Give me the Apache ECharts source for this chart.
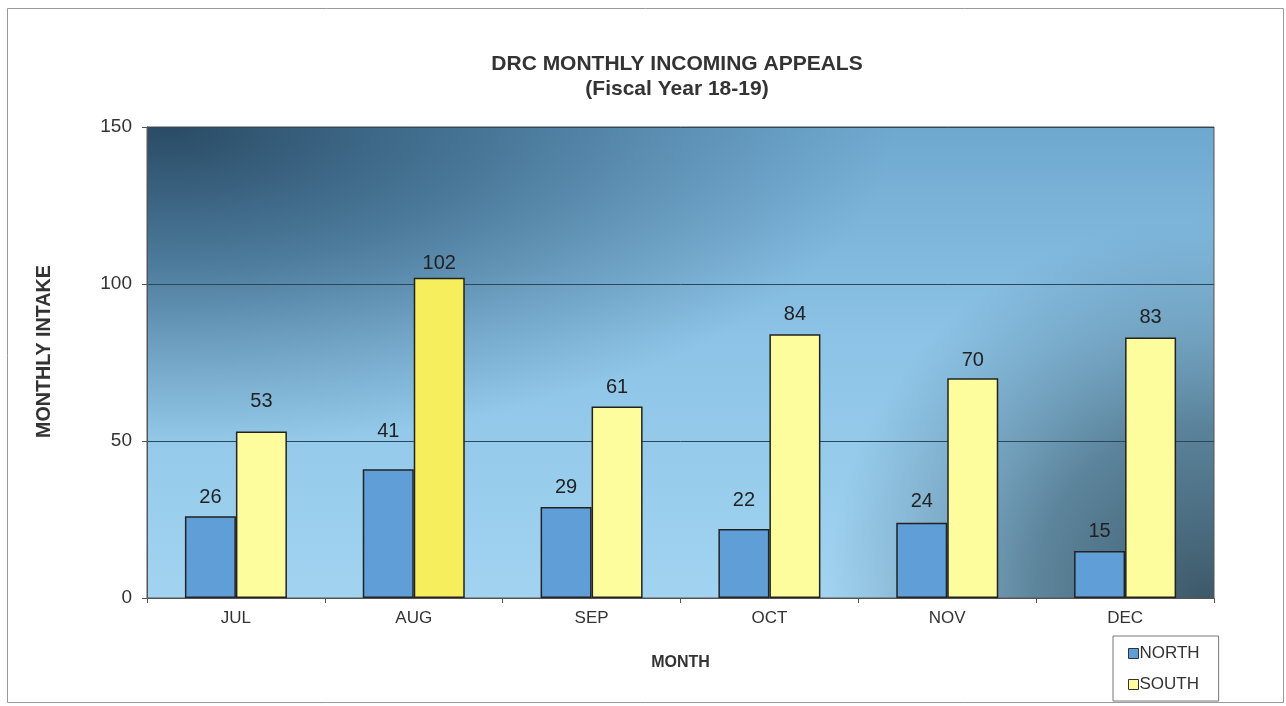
<!DOCTYPE html>
<html><head><meta charset="utf-8">
<script src="https://cdn.jsdelivr.net/npm/echarts@6/dist/echarts.min.js"></script>
<style>html,body{margin:0;padding:0;background:#fff}#c{width:1286px;height:706px}</style>
</head><body><div id="c"></div>
<script>
var categories = ['JUL','AUG','SEP','OCT','NOV','DEC'];
var northValues = [26, 41, 29, 22, 24, 15];
var southValues = [53, 102, 61, 84, 70, 83];
var yTicks = [0, 50, 100, 150];

var chart = echarts.init(document.getElementById('c'));
var font = 'Liberation Sans, Arial, sans-serif';

// plot area geometry (layout only)
var G = {left: 147, top: 127, right: 72, bottom: 108};
var gx = G.left, gy = G.top, gw = 1286 - G.left - G.right, gh = 706 - G.top - G.bottom;

// per-bar label offsets (styling, as hand-placed in the original)
var northLabelDist = [9, 28, 9, 18, 11, 9];
var southLabelDist = [20, 4, 9, 10, 8, 10];

var labelBase = {show: true, position: 'top', fontFamily: font, fontSize: 20, color: '#222'};
var northData = northValues.map(function(v, i){
  return {value: v, label: {distance: northLabelDist[i]}};
});
var southData = southValues.map(function(v, i){
  var d = {value: v, label: {distance: southLabelDist[i]}};
  if (i === 1) d.itemStyle = {color: '#f6ee5c'};
  return d;
});

var sx = gw / gh;
chart.setOption({
  animation: false,
  backgroundColor: '#ffffff',
  title: {
    text: 'DRC MONTHLY INCOMING APPEALS\n(Fiscal Year 18-19)',
    left: 672, textAlign: 'center', top: 47,
    textStyle: {fontFamily: font, fontSize: 21, fontWeight: 'bold', color: '#333', lineHeight: 25}
  },
  graphic: [
    {type: 'rect', z: -10, shape: {x: 7.5, y: 8.5, width: 1276, height: 694},
     style: {fill: '#fff', stroke: '#999', lineWidth: 1}},
    {type: 'rect', z: -9, silent: true, shape: {x: gx, y: gy, width: gw, height: gh},
     style: {fill: new echarts.graphic.LinearGradient(0, 0, 0, 1, [
       {offset: 0, color: '#6fa8cf'}, {offset: 0.45, color: '#8cc3e6'}, {offset: 1, color: '#a2d4f1'}
     ])}},
    {type: 'rect', z: -8, silent: true, x: gx, y: gy, scaleX: sx, scaleY: 1,
     shape: {x: 0, y: 0, width: gh, height: gh},
     style: {fill: new echarts.graphic.RadialGradient(0.02, 0.0, 0.68, [
       {offset: 0, color: 'rgba(38,70,95,0.95)'},
       {offset: 0.45, color: 'rgba(45,85,115,0.6)'},
       {offset: 1, color: 'rgba(60,100,130,0)'}
     ])}},
    {type: 'rect', z: -8, silent: true, x: gx, y: gy,
     shape: {x: 0, y: 0, width: gw, height: gh},
     style: {fill: new echarts.graphic.RadialGradient(0.99, 1.0, 0.8, [
       {offset: 0, color: 'rgba(55,82,98,0.95)'},
       {offset: 0.45, color: 'rgba(65,100,120,0.7)'},
       {offset: 1, color: 'rgba(80,120,145,0)'}
     ])}}
  ],
  legend: {
    orient: 'vertical', left: 1113, top: 636,
    itemWidth: 10, itemHeight: 10, itemGap: 14,
    padding: [9, 19, 8, 15],
    borderColor: '#777', borderWidth: 1, backgroundColor: '#fff',
    icon: 'rect',
    textStyle: {fontFamily: font, fontSize: 17, color: '#333', padding: [0,0,0,-4]},
    data: [{name: 'NORTH', itemStyle: {borderColor: '#333', borderWidth: 1}},
           {name: 'SOUTH', itemStyle: {borderColor: '#333', borderWidth: 1}}]
  },
  grid: {
    left: G.left, right: G.right, top: G.top, bottom: G.bottom, show: true,
    borderWidth: 1, borderColor: '#555', backgroundColor: 'transparent'
  },
  xAxis: {
    type: 'category', data: categories,
    name: 'MONTH', nameLocation: 'middle', nameGap: 57,
    nameTextStyle: {fontFamily: font, fontSize: 16, fontWeight: 'bold', color: '#333'},
    axisLine: {lineStyle: {color: '#555', width: 1}},
    axisTick: {show: true, lineStyle: {color: '#555'}, length: 5},
    axisLabel: {fontFamily: font, fontSize: 17, color: '#333', margin: 12}
  },
  yAxis: {
    type: 'value', min: 0, max: 150, interval: 50,
    name: 'MONTHLY INTAKE', nameLocation: 'middle', nameGap: 92, nameRotate: 90,
    nameTextStyle: {fontFamily: font, fontSize: 19.7, fontWeight: 'bold', color: '#333', padding: [0, 0, 0, 22]},
    axisLine: {show: true, lineStyle: {color: '#555'}},
    axisTick: {show: true, length: 5, lineStyle: {color: '#555'}},
    axisLabel: {fontFamily: font, fontSize: 19, color: '#333', margin: 15,
      formatter: function(v){ return yTicks.indexOf(v) >= 0 ? String(v) : ''; }},
    splitLine: {show: true, lineStyle: {color: '#2c4858', width: 1}}
  },
  series: [{
    name: 'NORTH', type: 'bar', data: northData, barWidth: 51, barGap: '0%',
    itemStyle: {color: '#5f9ed6', borderColor: '#222', borderWidth: 1.5},
    label: labelBase
  }, {
    name: 'SOUTH', type: 'bar', data: southData, barWidth: 51, barGap: '0%',
    itemStyle: {color: '#fdfd9e', borderColor: '#222', borderWidth: 1.5},
    label: labelBase
  }]
});
</script></body></html>
